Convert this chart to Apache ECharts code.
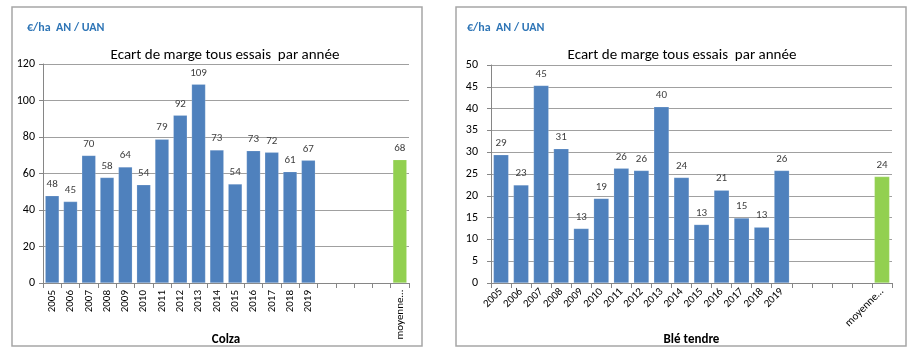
<!DOCTYPE html>
<html><head><meta charset="utf-8">
<script src="https://cdn.jsdelivr.net/npm/echarts@6/dist/echarts.min.js"></script>
<style>html,body{margin:0;padding:0;background:#fff}#c{width:915px;height:355px}</style>
</head><body><div id="c"></div>
<script>
const categories = ['2005','2006','2007','2008','2009','2010','2011','2012','2013','2014','2015','2016','2017','2018','2019','','','','','moyenne…'];
const colzaValues = [47.8,44.6,69.9,57.8,63.6,53.8,78.8,91.9,108.9,72.9,54.2,72.5,71.6,61.0,67.2,null,null,null,null,67.6];
const bleValues = [29.4,22.5,45.3,30.8,12.5,19.4,26.3,25.8,40.4,24.2,13.4,21.3,14.9,12.8,25.8,null,null,null,null,24.4];
const averageIndex = 19;
const titleText = 'Ecart de marge tous essais  par année';
const unitText = '€/ha  AN / UAN';
const cropNames = ['Colza','Blé tendre'];

const FONT = "Carlito, 'Liberation Sans', Arial, sans-serif";
const BLUE = '#4F81BD', GREEN = '#92D050';
function buildData(vals){
  return vals.map((v,i)=> i===averageIndex ? {value:v,itemStyle:{color:GREEN}} : v);
}
const chart = echarts.init(document.getElementById('c'));
const axisCommon = {
  type:'category', data:categories,
  axisLine:{lineStyle:{color:'#868686',width:1}},
  axisTick:{show:true,lineStyle:{color:'#868686'},length:5},
  nameLocation:'middle', nameGap:50, nameMoveOverlap:false,
  nameTextStyle:{fontFamily:FONT,fontWeight:'bold',fontSize:13,color:'#000'}
};
const yCommon = {
  type:'value', min:0,
  axisLine:{show:true,lineStyle:{color:'#868686'}},
  axisTick:{show:true,length:4,lineStyle:{color:'#868686'}},
  splitLine:{lineStyle:{color:'#a0a0a0',width:1}},
  axisLabel:{fontFamily:FONT,fontSize:12,color:'#000'}
};
const labelCommon = {show:true,position:'top',distance:6,fontFamily:FONT,fontSize:11,color:'#404040',
  formatter:p=>p.value==null?'':Math.round(p.value)};
chart.setOption({
  animation:false,
  backgroundColor:'#fff',
  title:[
    {text:titleText,left:220,top:43,textAlign:'center',textStyle:{fontFamily:FONT,fontSize:15,fontWeight:'normal',color:'#000'}},
    {text:titleText,left:677,top:43,textAlign:'center',textStyle:{fontFamily:FONT,fontSize:15,fontWeight:'normal',color:'#000'}}
  ],
  graphic:[
    {type:'rect',shape:{x:12,y:7,width:410,height:339},style:{fill:'none',stroke:'#a6a6a6',lineWidth:1.5},z:-1},
    {type:'rect',shape:{x:456,y:7,width:450,height:339},style:{fill:'none',stroke:'#a6a6a6',lineWidth:1.5},z:-1},
    {type:'text',left:27,top:22,style:{text:unitText,fill:'#2E75B6',font:"bold 12px "+FONT}},
    {type:'text',left:467,top:22,style:{text:unitText,fill:'#2E75B6',font:"bold 12px "+FONT}}
  ],
  grid:[
    {left:43,top:64,right:506,bottom:72,outerBoundsMode:'none',containLabel:false},
    {left:491,top:65,right:23,bottom:72,outerBoundsMode:'none',containLabel:false}
  ],
  xAxis:[
    Object.assign({},axisCommon,{gridIndex:0,name:cropNames[0],axisLabel:{rotate:90,fontFamily:FONT,fontSize:11,color:'#000',interval:0,margin:7}}),
    Object.assign({},axisCommon,{gridIndex:1,name:cropNames[1],axisLabel:{rotate:45,fontFamily:FONT,fontSize:11,color:'#000',interval:0,margin:7}})
  ],
  yAxis:[
    Object.assign({},yCommon,{gridIndex:0,max:120,interval:20,axisLabel:Object.assign({},yCommon.axisLabel,{margin:8})}),
    Object.assign({},yCommon,{gridIndex:1,max:50,interval:5,axisLabel:Object.assign({},yCommon.axisLabel,{margin:13})})
  ],
  series:[
    {type:'bar',xAxisIndex:0,yAxisIndex:0,data:buildData(colzaValues),barCategoryGap:'24%',
      itemStyle:{color:BLUE,borderColor:'rgba(255,255,255,0.35)',borderWidth:0.5},label:labelCommon},
    {type:'bar',xAxisIndex:1,yAxisIndex:1,data:buildData(bleValues),barCategoryGap:'24%',
      itemStyle:{color:BLUE,borderColor:'rgba(255,255,255,0.35)',borderWidth:0.5},label:labelCommon}
  ]
});
</script></body></html>
